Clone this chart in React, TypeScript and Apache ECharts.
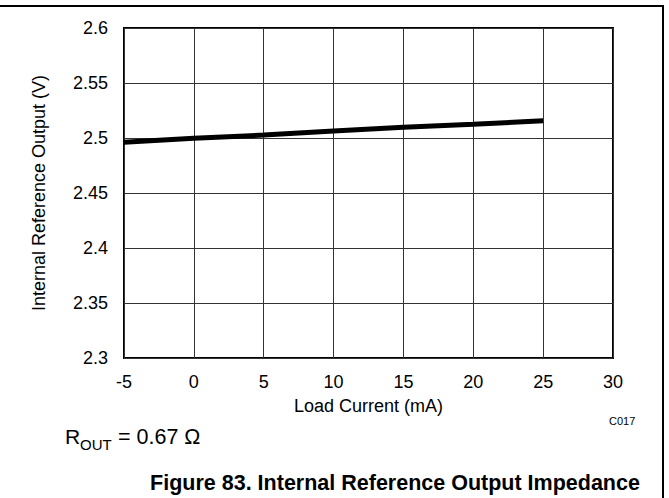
import React, { useEffect, useRef } from "react";
import * as echarts from "echarts";

const loadCurrent = [-5, 0, 5, 10, 15, 20, 25];
const refOutput = [2.4961, 2.4997, 2.5027, 2.5064, 2.5097, 2.5125, 2.5157];
const xTicks = [-5, 0, 5, 10, 15, 20, 25, 30];
const yTicks = [2.3, 2.35, 2.4, 2.45, 2.5, 2.55, 2.6];

const FONT = "'Liberation Sans', Arial, sans-serif";

export default function App() {
  const ref = useRef<HTMLDivElement>(null);
  useEffect(() => {
    document.body.style.margin = "0";
    if (!ref.current) return;
    const chart = echarts.init(ref.current, null, { renderer: "svg" });
    chart.setOption({
      animation: false,
      backgroundColor: "#ffffff",
      grid: {
        left: 124,
        top: 28,
        right: 56,
        bottom: 140,
        show: true,
        borderColor: "#000",
        borderWidth: 2,
      },
      xAxis: {
        type: "value",
        min: xTicks[0],
        max: xTicks[xTicks.length - 1],
        interval: 5,
        name: "Load Current (mA)",
        nameLocation: "middle",
        nameGap: 39,
        nameTextStyle: { fontFamily: FONT, fontSize: 18, color: "#000" },
        axisLine: { show: false },
        axisTick: { show: false },
        axisLabel: { fontFamily: FONT, fontSize: 18, color: "#000", margin: 15 },
        splitLine: { show: true, lineStyle: { color: "#333", width: 1 } },
      },
      yAxis: {
        type: "value",
        min: yTicks[0],
        max: yTicks[yTicks.length - 1],
        interval: 0.05,
        name: "Internal Reference Output (V)",
        nameLocation: "middle",
        nameGap: 76,
        nameTextStyle: { fontFamily: FONT, fontSize: 18, color: "#000" },
        axisLine: { show: false },
        axisTick: { show: false },
        axisLabel: {
          fontFamily: FONT,
          fontSize: 18,
          color: "#000",
          margin: 16,
          formatter: (v: number) => String(parseFloat(v.toFixed(2))),
        },
        splitLine: { show: true, lineStyle: { color: "#333", width: 1 } },
      },
      series: [
        {
          type: "line",
          data: loadCurrent.map((x, i) => [x, refOutput[i]]),
          showSymbol: false,
          symbol: "none",
          lineStyle: { color: "#000", width: 5 },
          z: 5,
        },
      ],
      graphic: [
        { type: "line", shape: { x1: 0, y1: 6, x2: 664, y2: 6 }, style: { stroke: "#000", lineWidth: 2 } },
        { type: "line", shape: { x1: 663, y1: 6, x2: 663, y2: 498 }, style: { stroke: "#000", lineWidth: 2 } },
        {
          type: "text",
          x: 609,
          y: 415,
          style: { text: "C017", fontFamily: FONT, fontSize: 11, fill: "#000" },
        },
        {
          type: "text",
          x: 65,
          y: 426,
          style: { text: "R", fontFamily: FONT, fontSize: 21, fill: "#000" },
        },
        {
          type: "text",
          x: 80,
          y: 437,
          style: { text: "OUT", fontFamily: FONT, fontSize: 15, fill: "#000" },
        },
        {
          type: "text",
          x: 118,
          y: 426,
          style: { text: "= 0.67 Ω", fontFamily: FONT, fontSize: 21.5, fill: "#000" },
        },
        {
          type: "text",
          x: 395,
          y: 483,
          style: {
            text: "Figure 83. Internal Reference Output Impedance",
            fontFamily: FONT,
            fontSize: 21.5,
            fontWeight: "bold",
            fill: "#000",
            align: "center",
            verticalAlign: "middle",
          },
        },
      ],
    });
    return () => chart.dispose();
  }, []);
  return <div ref={ref} style={{ width: 669, height: 498 }} />;
}
